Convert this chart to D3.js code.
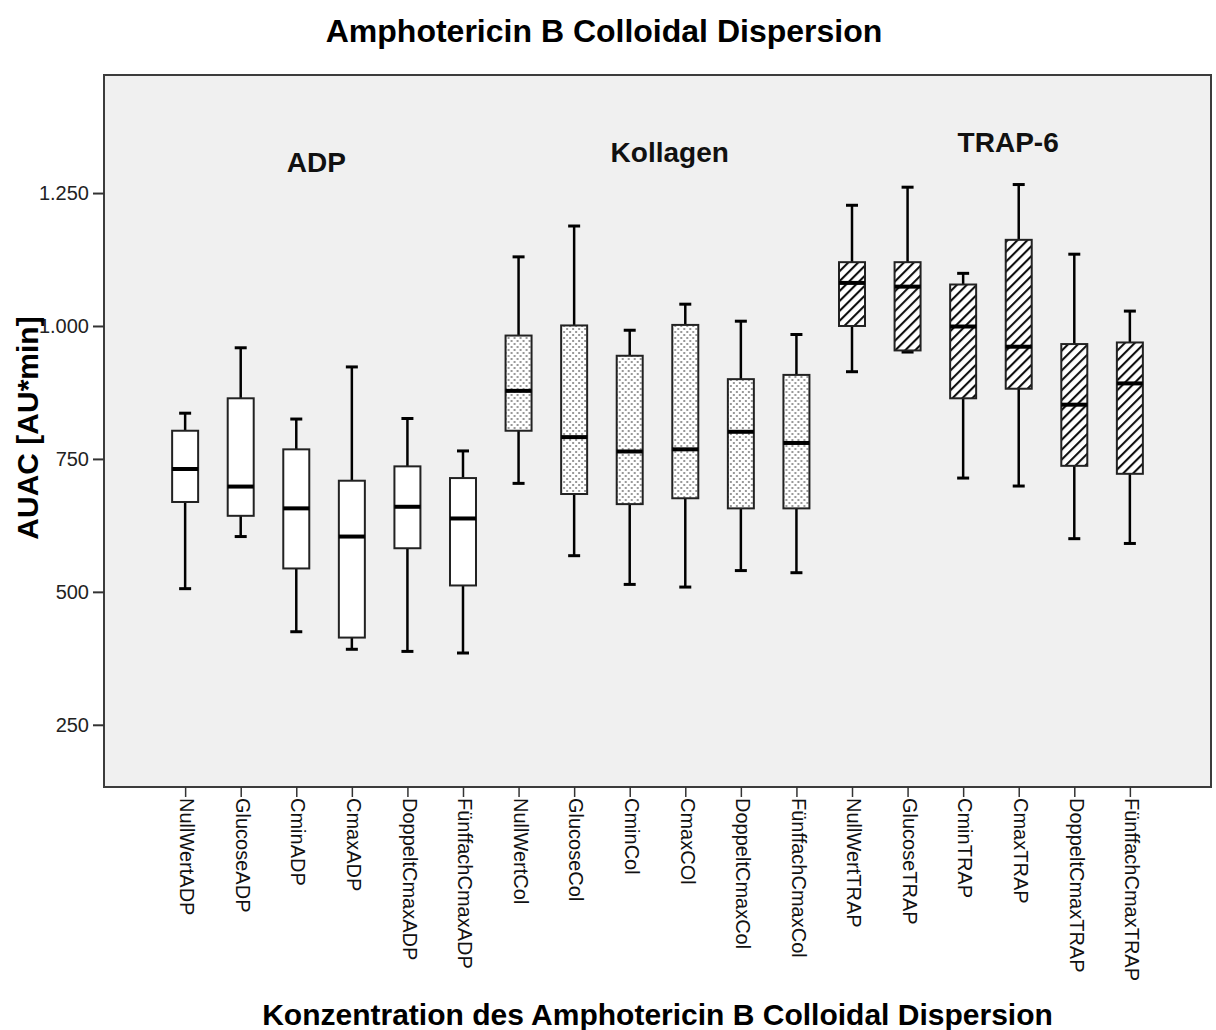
<!DOCTYPE html>
<html>
<head>
<meta charset="utf-8">
<script src="https://cdn.jsdelivr.net/npm/d3@7/dist/d3.min.js"></script>
<style>
  body { margin: 0; background: #fff; }
  svg { display: block; }
</style>
</head>
<body>
<svg id="chart" width="1216" height="1030"></svg>
<script>
// categories, in plot order
const categories = [
  'NullWertADP', 'GlucoseADP', 'CminADP', 'CmaxADP', 'DoppeltCmaxADP', 'FünffachCmaxADP',
  'NullWertCol', 'GlucoseCol', 'CminCol', 'CmaxCOl', 'DoppeltCmaxCol', 'FünffachCmaxCol',
  'NullWertTRAP', 'GlucoseTRAP', 'CminTRAP', 'CmaxTRAP', 'DoppeltCmaxTRAP', 'FünffachCmaxTRAP'
];
const groupOf = [
  'ADP', 'ADP', 'ADP', 'ADP', 'ADP', 'ADP',
  'Col', 'Col', 'Col', 'Col', 'Col', 'Col',
  'TRAP', 'TRAP', 'TRAP', 'TRAP', 'TRAP', 'TRAP'
];
// box statistics
const whiskerLow = [506, 604, 425, 392, 388, 385, 704, 568, 514, 509, 540, 536, 914, 951, 714, 699, 600, 591];
const q1 =         [669, 643, 544, 414, 582, 512, 803, 684, 665, 676, 657, 657, 1000, 954, 864, 882, 737, 722];
const median =     [731, 698, 657, 604, 660, 638, 878, 791, 764, 768, 801, 780, 1081, 1074, 999, 961, 852, 892];
const q3 =         [803, 864, 768, 709, 736, 714, 982, 1001, 944, 1002, 900, 908, 1120, 1120, 1078, 1162, 966, 969];
const whiskerHigh = [836, 959, 825, 923, 826, 765, 1130, 1188, 992, 1041, 1009, 984, 1227, 1261, 1099, 1266, 1135, 1028];

const yTicks = [250, 500, 750, 1000, 1250];
const groupLabels = ['ADP', 'Kollagen', 'TRAP-6'];
const groupLabelPos = [2.36, 8.72, 14.81];      // in category index units
const groupLabelValue = [1290, 1309, 1328];

const title = 'Amphotericin B Colloidal Dispersion';
const xTitle = 'Konzentration des Amphotericin B Colloidal Dispersion';
const yTitle = 'AUAC [AU*min]';

const plot = { left: 104, right: 1211, top: 75, bottom: 787 };
const boxWidth = 26;
const capWidth = 12;
const sans = 'Liberation Sans, Arial, sans-serif';

var svg = d3.select('#chart');
var defs = svg.append('defs');

// dotted fill for Kollagen
var dots = defs.append('pattern')
  .attr('id', 'dots')
  .attr('patternUnits', 'userSpaceOnUse')
  .attr('width', 6).attr('height', 6);
dots.append('rect').attr('width', 6).attr('height', 6).attr('fill', '#fff');
dots.append('rect').attr('x', 1).attr('y', 1).attr('width', 2).attr('height', 2).attr('fill', '#999');
dots.append('rect').attr('x', 4).attr('y', 4).attr('width', 2).attr('height', 2).attr('fill', '#999');

// diagonal hatch for TRAP-6
var hatch = defs.append('pattern')
  .attr('id', 'hatch')
  .attr('patternUnits', 'userSpaceOnUse')
  .attr('width', 7).attr('height', 7)
  .attr('patternTransform', 'rotate(45)');
hatch.append('rect').attr('width', 7).attr('height', 7).attr('fill', '#fff');
hatch.append('line')
  .attr('x1', 0).attr('y1', 0).attr('x2', 0).attr('y2', 7)
  .attr('stroke', '#111').attr('stroke-width', 4.2);

const fillFor = { ADP: '#fff', Col: 'url(#dots)', TRAP: 'url(#hatch)' };

var x = d3.scalePoint()
  .domain(categories)
  .range([plot.left, plot.right])
  .padding(1.46);

var xIndex = d3.scaleLinear()
  .domain([0, categories.length - 1])
  .range([x(categories[0]), x(categories[categories.length - 1])]);

var y = d3.scaleLinear()
  .domain([133, 1472])
  .range([plot.bottom, plot.top]);

// plot background
svg.append('rect')
  .attr('x', plot.left).attr('y', plot.top)
  .attr('width', plot.right - plot.left)
  .attr('height', plot.bottom - plot.top)
  .attr('fill', '#f0f0f0')
  .attr('stroke', '#3c3c3c')
  .attr('stroke-width', 2);

// axes
var yAxis = d3.axisLeft(y)
  .tickValues(yTicks)
  .tickSize(11)
  .tickPadding(4)
  .tickFormat(d => d3.format(',')(d).replace(/,/g, '.'));

var yAxisG = svg.append('g')
  .attr('transform', `translate(${plot.left},0)`)
  .call(yAxis);
yAxisG.select('.domain').remove();
yAxisG.selectAll('line').attr('stroke', '#333').attr('stroke-width', 2);
yAxisG.selectAll('text')
  .attr('font-family', sans)
  .attr('font-size', 20)
  .attr('fill', '#222');

var xAxis = d3.axisBottom(x).tickSize(10).tickPadding(3);
var xAxisG = svg.append('g')
  .attr('transform', `translate(0,${plot.bottom})`)
  .call(xAxis);
xAxisG.select('.domain').remove();
xAxisG.selectAll('line').attr('stroke', '#333').attr('stroke-width', 1.5);
xAxisG.selectAll('text')
  .attr('font-family', sans)
  .attr('font-size', 20)
  .attr('fill', '#111')
  .attr('text-anchor', 'start')
  .attr('dy', null)
  .attr('transform', 'rotate(90)')
  .attr('x', 11)
  .attr('y', 0)
  .attr('dominant-baseline', 'middle');

// boxes
var boxes = svg.append('g')
  .selectAll('g')
  .data(categories)
  .join('g')
  .attr('transform', d => `translate(${x(d)},0)`);

boxes.append('line')
  .attr('x1', 0).attr('x2', 0)
  .attr('y1', (d, i) => y(whiskerHigh[i]))
  .attr('y2', (d, i) => y(q3[i]))
  .attr('stroke', '#000').attr('stroke-width', 2.5);

boxes.append('line')
  .attr('x1', 0).attr('x2', 0)
  .attr('y1', (d, i) => y(q1[i]))
  .attr('y2', (d, i) => y(whiskerLow[i]))
  .attr('stroke', '#000').attr('stroke-width', 2.5);

boxes.append('line')
  .attr('x1', -capWidth / 2).attr('x2', capWidth / 2)
  .attr('y1', (d, i) => y(whiskerHigh[i]))
  .attr('y2', (d, i) => y(whiskerHigh[i]))
  .attr('stroke', '#000').attr('stroke-width', 3);

boxes.append('line')
  .attr('x1', -capWidth / 2).attr('x2', capWidth / 2)
  .attr('y1', (d, i) => y(whiskerLow[i]))
  .attr('y2', (d, i) => y(whiskerLow[i]))
  .attr('stroke', '#000').attr('stroke-width', 3);

boxes.append('rect')
  .attr('x', -boxWidth / 2)
  .attr('width', boxWidth)
  .attr('y', (d, i) => y(q3[i]))
  .attr('height', (d, i) => y(q1[i]) - y(q3[i]))
  .attr('fill', (d, i) => fillFor[groupOf[i]])
  .attr('stroke', '#222')
  .attr('stroke-width', 2);

boxes.append('line')
  .attr('x1', -boxWidth / 2).attr('x2', boxWidth / 2)
  .attr('y1', (d, i) => y(median[i]))
  .attr('y2', (d, i) => y(median[i]))
  .attr('stroke', '#000').attr('stroke-width', 4);

// group annotations
svg.append('g')
  .selectAll('text')
  .data(groupLabels)
  .join('text')
  .attr('x', (d, i) => xIndex(groupLabelPos[i]))
  .attr('y', (d, i) => y(groupLabelValue[i]))
  .attr('text-anchor', 'middle')
  .attr('font-family', sans)
  .attr('font-weight', 'bold')
  .attr('font-size', 28)
  .attr('fill', '#111')
  .text(d => d);

// titles
svg.append('text')
  .attr('x', 604).attr('y', 42)
  .attr('text-anchor', 'middle')
  .attr('font-family', sans)
  .attr('font-weight', 'bold')
  .attr('font-size', 32)
  .attr('fill', '#000')
  .text(title);

svg.append('text')
  .attr('x', (plot.left + plot.right) / 2).attr('y', 1025)
  .attr('text-anchor', 'middle')
  .attr('font-family', sans)
  .attr('font-weight', 'bold')
  .attr('font-size', 30)
  .attr('fill', '#000')
  .text(xTitle);

svg.append('text')
  .attr('transform', `translate(38,${(plot.top + plot.bottom) / 2 - 3}) rotate(-90)`)
  .attr('text-anchor', 'middle')
  .attr('font-family', sans)
  .attr('font-weight', 'bold')
  .attr('font-size', 30)
  .attr('fill', '#000')
  .text(yTitle);
</script>
</body>
</html>
